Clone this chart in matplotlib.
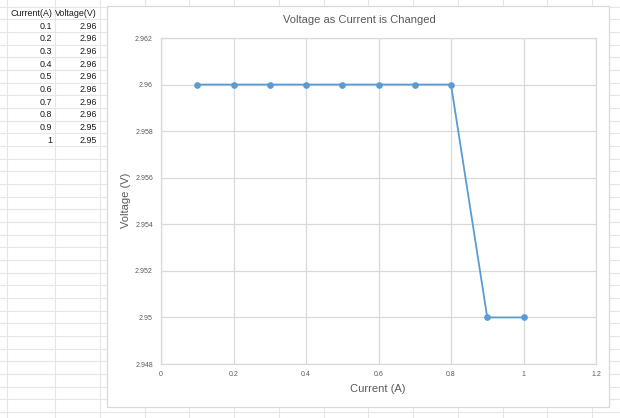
import matplotlib
matplotlib.use('Agg')
import matplotlib.pyplot as plt
from matplotlib.patches import Rectangle
from matplotlib.ticker import FuncFormatter, FixedLocator

# ---- data ----
current = [0.1, 0.2, 0.3, 0.4, 0.5, 0.6, 0.7, 0.8, 0.9, 1]
voltage = [2.96, 2.96, 2.96, 2.96, 2.96, 2.96, 2.96, 2.96, 2.95, 2.95]
x_ticks = [0, 0.2, 0.4, 0.6, 0.8, 1.0, 1.2]
y_ticks = [2.948, 2.95, 2.952, 2.954, 2.956, 2.958, 2.96, 2.962]
table_headers = ["Current(A)", "Voltage(V)"]
title = "Voltage as Current is Changed"
xlabel = "Current (A)"
ylabel = "Voltage (V)"

FONT = ['Liberation Sans', 'DejaVu Sans']
plt.rcParams['font.family'] = FONT

W, H = 620, 418
fig = plt.figure(figsize=(W / 100, H / 100), dpi=100)

# ---- spreadsheet background ----
bg = fig.add_axes([0, 0, 1, 1])
bg.set_xlim(0, W)
bg.set_ylim(H, 0)
bg.axis('off')
grid_c = '#e6e6e6'
col_lines = [6.5] + [55 + 44.75 * k for k in range(14)]
row_lines = [6.6 + 12.67 * k for k in range(-1, 34)]
for x in col_lines:
    bg.plot([x, x], [0, H], color=grid_c, lw=0.8, zorder=1)
for y in row_lines:
    bg.plot([0, W], [y, y], color=grid_c, lw=0.8, zorder=1)

# table text
row_h = 12.67
y0 = 13.6
fs_tab = 6.4
bg.text(52, y0, table_headers[0], ha='right', va='center', fontsize=fs_tab, color='#1a1a1a', zorder=2)
bg.text(97, y0, table_headers[1], ha='right', va='center', fontsize=fs_tab, color='#1a1a1a', zorder=2)
for i, (c, v) in enumerate(zip(current, voltage)):
    yy = y0 + row_h * (i + 1)
    bg.text(52, yy, f"{c:g}", ha='right', va='center', fontsize=fs_tab, color='#1a1a1a', zorder=2)
    bg.text(97, yy, f"{v:g}", ha='right', va='center', fontsize=fs_tab, color='#1a1a1a', zorder=2)

# chart area
bg.add_patch(Rectangle((107, 6), 502, 401, facecolor='white', edgecolor='#d9d9d9', lw=0.9, zorder=3))
bg.text(359, 20, title, ha='center', va='center', fontsize=8.0, color='#595959', zorder=4)
bg.text(126, 200, ylabel, ha='center', va='center', rotation=90, fontsize=8.0, color='#595959', zorder=4)
bg.text(378, 389, xlabel, ha='center', va='center', fontsize=8.0, color='#595959', zorder=4)

# ---- plot area ----
left, right, top, bottom = 161, 596, 38, 364
ax = fig.add_axes([left / W, 1 - bottom / H, (right - left) / W, (bottom - top) / H])
ax.set_facecolor('white')
ax.plot(current, voltage, color='#5b9bd5', lw=1.3, marker='o', markersize=3.8,
        markerfacecolor='#5b9bd5', markeredgecolor='#5b9bd5', zorder=3)
ax.set_xlim(x_ticks[0], x_ticks[-1])
ax.set_ylim(y_ticks[0], y_ticks[-1])
ax.xaxis.set_major_locator(FixedLocator(x_ticks))
ax.yaxis.set_major_locator(FixedLocator(y_ticks))

def fmt(v, pos):
    s = f"{v:.3f}".rstrip('0').rstrip('.')
    return s

ax.xaxis.set_major_formatter(FuncFormatter(fmt))
ax.yaxis.set_major_formatter(FuncFormatter(fmt))
ax.grid(True, color='#d9d9d9', lw=0.9, zorder=0)
ax.set_axisbelow(True)
for s in ax.spines.values():
    s.set_color('#d9d9d9')
    s.set_linewidth(0.9)
ax.tick_params(axis='both', length=0, labelsize=5.0, colors='#595959')
ax.tick_params(axis='y', pad=5.8)
ax.tick_params(axis='x', pad=5.0)

fig.savefig('out.png', dpi=100)
